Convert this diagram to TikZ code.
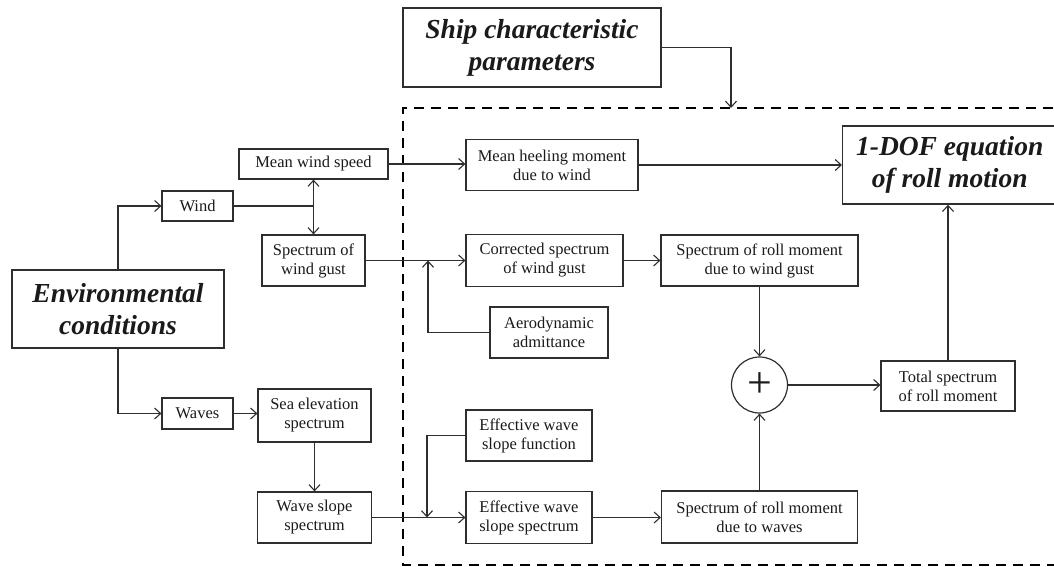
\documentclass[tikz,border=0pt]{standalone}
\usepackage{fontspec}
\setmainfont{Liberation Serif}
\usetikzlibrary{arrows.meta}
\definecolor{lc}{HTML}{2E2E2E}
\definecolor{tc}{HTML}{1A1A1A}
\begin{document}
\begin{tikzpicture}[x=1pt,y=-1pt,
  box/.style={draw=lc, line width=1.2pt, align=center, inner sep=2pt, text=tc,
    font=\fontsize{16.5}{19}\selectfont},
  bigbox/.style={draw=lc, line width=1.4pt, align=center, inner sep=2pt, text=tc,
    font=\fontsize{27.5}{32}\selectfont\bfseries\itshape},
  arr/.style={draw=lc, line width=1.1pt, -{Straight Barb[length=6pt,width=11pt,line width=1.1pt]}},
  ln/.style={draw=lc, line width=1.1pt},
  dbox/.style={draw=black, line width=2.6pt, dash pattern=on 10pt off 7pt},
  sumnode/.style={circle, draw=lc, line width=1.2pt, inner sep=0pt, minimum size=56pt, text=tc,
    font=\fontsize{44}{44}\selectfont}
]
\useasboundingbox (0,0) rectangle (1054,567);

% dashed region
\draw[dbox] (1070,108) -- (403,108) -- (403,565) -- (1070,565);

% left part
\node[bigbox, minimum width=212pt, minimum height=78pt] (env) at (118,309) {Environmental\\conditions};
\node[box, minimum width=71pt, minimum height=30pt] (wind) at (197.5,206) {Wind};
\node[box, minimum width=71pt, minimum height=31pt] (waves) at (197.5,413.5) {Waves};
\node[box, minimum width=149pt, minimum height=30pt] (mws) at (313.5,164) {Mean wind speed};
\node[box, minimum width=103pt, minimum height=51pt] (swg) at (313.5,260.5) {Spectrum of\\wind gust};
\node[box, minimum width=113pt, minimum height=53pt] (sea) at (314.5,415.5) {Sea elevation\\spectrum};
\node[box, minimum width=114pt, minimum height=51pt] (wss) at (314.5,517.5) {Wave slope\\spectrum};

% top
\node[bigbox, minimum width=258pt, minimum height=79pt] (ship) at (532,47.5) {Ship characteristic\\parameters};
\coordinate (dtop) at (731,108);

% inside dashed region
\node[box, minimum width=172pt, minimum height=51pt] (mhm) at (552,165) {Mean heeling moment\\due to wind};
\node[box, minimum width=157pt, minimum height=52pt] (csw) at (544.5,260.5) {Corrected spectrum\\of wind gust};
\node[box, minimum width=118pt, minimum height=51pt] (aero) at (549,332.5) {Aerodynamic\\admittance};
\node[box, minimum width=126pt, minimum height=51pt] (ewf) at (529,435.5) {Effective wave\\slope function};
\node[box, minimum width=126pt, minimum height=52pt] (ews) at (529,517.5) {Effective wave\\slope spectrum};
\node[box, minimum width=197pt, minimum height=51pt] (srmg) at (759.5,260.5) {Spectrum of roll moment\\due to wind gust};
\node[box, minimum width=196pt, minimum height=52pt] (srmw) at (759.5,517) {Spectrum of roll moment\\due to waves};
\node[sumnode] (sum) at (759.5,385) {+};
\node[box, minimum width=134pt, minimum height=50pt] (tot) at (948,386) {Total spectrum\\of roll moment};
\node[bigbox, minimum width=214pt, minimum height=78pt, anchor=west] (dof) at (842,165) {1-DOF equation\\of roll motion};

\coordinate (ja) at (428,260.5);
\coordinate (jw) at (427,517.5);

% connectors
\draw[arr] (env.north) |- (wind.west);
\draw[arr] (env.south) |- (waves.west);
\draw[arr] (waves.east) -- (waves.east -| sea.west);
\draw[ln] (wind.east) -- (mws.south |- wind.east);
\draw[arr] (mws.south |- wind.east) -- (mws.south);
\draw[arr] (swg.north |- wind.east) -- (swg.north);
\draw[arr] (mws.east) -- (mws.east -| mhm.west);
\draw[arr] (mhm.east) -- (mhm.east -| dof.west);
\draw[arr] (swg.east) -- (csw.west);
\draw[arr] (aero.west) -| (ja);
\draw[arr] (csw.east) -- (srmg.west);
\draw[arr] (srmg.south) -- (sum.north);
\draw[arr] (srmw.north) -- (sum.south);
\draw[arr] (sum.east) -- (sum.east -| tot.west);
\draw[arr] (tot.north) -- (tot.north |- dof.south);
\draw[arr] (sea.south) -- (sea.south |- wss.north);
\draw[arr] (wss.east) -- (ews.west);
\draw[arr] (ewf.west) -| (jw);
\draw[arr] (ews.east) -- (ews.east -| srmw.west);
\draw[arr] (ship.east) -| (dtop);
\end{tikzpicture}
\end{document}
